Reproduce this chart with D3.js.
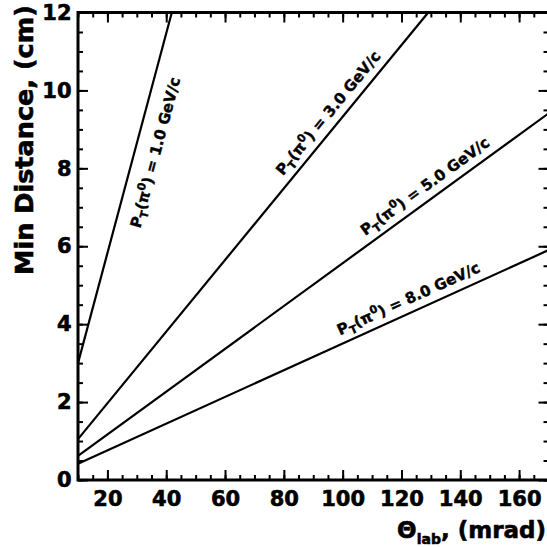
<!DOCTYPE html>
<html>
<head>
<meta charset="utf-8">
<script src="https://cdn.jsdelivr.net/npm/d3@7"></script>
<style>
  html, body { margin: 0; padding: 0; background: #fff; }
  svg { display: block; }
  text { font-family: "DejaVu Sans", sans-serif; font-weight: bold; fill: #000; stroke: #000; stroke-width: 0.6px; }
</style>
</head>
<body>
<svg id="chart" width="547" height="547"></svg>
<script>
// ---- data ----
const ptLabels = ["1.0", "3.0", "5.0", "8.0"];
const theta_pt1 = [10, 41.9];
const dist_pt1  = [3.0, 12.0];
const theta_pt3 = [10, 129.1];
const dist_pt3  = [1.05, 12.0];
const theta_pt5 = [10, 170];
const dist_pt5  = [0.62, 9.41];
const theta_pt8 = [10, 170];
const dist_pt8  = [0.42, 5.9];
// label anchors (data units) along each curve
const labelTheta = [31.2, 79.7, 107.7, 99.1];
const labelDist  = [6.45, 7.8, 6.26, 3.71];

const xMajorTicks = [20, 40, 60, 80, 100, 120, 140, 160];
const yMajorTicks = [0, 2, 4, 6, 8, 10, 12];
const xMinorTicks = d3.range(10, 171, 5);
const yMinorTicks = d3.range(0, 12.01, 0.5);

const xDomain = [10, 170];
const yDomain = [0, 12];
const xTitle = "Θ";
const xTitleSub = "lab";
const xTitleRest = ", (mrad)";
const yTitle = "Min Distance, (cm)";

// ---- layout ----
const svg = d3.select("#chart");
const L = 78, R = 548.5, T = 12.5, B = 480;
const x = d3.scaleLinear().domain(xDomain).range([L, R]);
const y = d3.scaleLinear().domain(yDomain).range([B, T]);

const series = [
  {pt: ptLabels[0], th: theta_pt1, d: dist_pt1},
  {pt: ptLabels[1], th: theta_pt3, d: dist_pt3},
  {pt: ptLabels[2], th: theta_pt5, d: dist_pt5},
  {pt: ptLabels[3], th: theta_pt8, d: dist_pt8}
];

function styleAxis(g) {
  g.select(".domain").remove();
  g.selectAll(".tick line").attr("stroke", "#000").attr("stroke-width", 2);
}

// minor ticks
svg.append("g").attr("transform", `translate(0,${B})`)
  .call(d3.axisBottom(x).tickValues(xMinorTicks).tickSize(-5).tickFormat(""))
  .call(styleAxis);
svg.append("g").attr("transform", `translate(0,${T})`)
  .call(d3.axisTop(x).tickValues(xMinorTicks).tickSize(-5).tickFormat(""))
  .call(styleAxis);
svg.append("g").attr("transform", `translate(${L},0)`)
  .call(d3.axisLeft(y).tickValues(yMinorTicks).tickSize(-5).tickFormat(""))
  .call(styleAxis);
svg.append("g").attr("transform", `translate(${R},0)`)
  .call(d3.axisRight(y).tickValues(yMinorTicks).tickSize(-5).tickFormat(""))
  .call(styleAxis);

// major ticks
const gx = svg.append("g").attr("transform", `translate(0,${B})`)
  .call(d3.axisBottom(x).tickValues(xMajorTicks).tickSize(-10).tickPadding(11.5).tickFormat(d3.format("d")))
  .call(styleAxis);
gx.selectAll("text").style("font-size", "21px").attr("font-family", null).attr("fill", null);
svg.append("g").attr("transform", `translate(0,${T})`)
  .call(d3.axisTop(x).tickValues(xMajorTicks).tickSize(-10).tickFormat(""))
  .call(styleAxis);
const gy = svg.append("g").attr("transform", `translate(${L},0)`)
  .call(d3.axisLeft(y).tickValues(yMajorTicks).tickSize(-10).tickPadding(6.5).tickFormat(d3.format("d")))
  .call(styleAxis);
gy.selectAll("text").style("font-size", "21px").attr("font-family", null).attr("fill", null);
svg.append("g").attr("transform", `translate(${R},0)`)
  .call(d3.axisRight(y).tickValues(yMajorTicks).tickSize(-10).tickFormat(""))
  .call(styleAxis);

// frame
svg.append("rect")
  .attr("x", L).attr("y", T).attr("width", R - L).attr("height", B - T)
  .attr("fill", "none").attr("stroke", "#000").attr("stroke-width", 3);

// curves
const line = d3.line().x(p => x(p[0])).y(p => y(p[1]));
svg.append("g").selectAll("path").data(series).join("path")
  .attr("d", s => line(s.th.map((t, i) => [t, s.d[i]])))
  .attr("fill", "none").attr("stroke", "#000").attr("stroke-width", 2.2);

// curve labels
series.forEach((s, i) => {
  const dx = x(s.th[1]) - x(s.th[0]);
  const dy = y(s.d[1]) - y(s.d[0]);
  const ang = Math.atan2(dy, dx) * 180 / Math.PI;
  const px = x(labelTheta[i]), py = y(labelDist[i]);
  const t = svg.append("text")
    .attr("transform", `translate(${px},${py}) rotate(${ang})`)
    .style("font-size", "15px").style("stroke-width", "0.4px");
  t.append("tspan").text("P");
  t.append("tspan").attr("dy", 4).style("font-size", "11px").text("T");
  t.append("tspan").attr("dy", -4).text("(π");
  t.append("tspan").attr("dy", -6).style("font-size", "11px").text("0");
  t.append("tspan").attr("dy", 6).text(") = " + s.pt + " GeV/c");
});

// axis titles
const xt = svg.append("text")
  .attr("x", 546).attr("y", 538)
  .attr("text-anchor", "end")
  .style("font-size", "23px");
xt.append("tspan").text(xTitle);
xt.append("tspan").attr("dy", 6).style("font-size", "14px").text(xTitleSub);
xt.append("tspan").attr("dy", -6).text(xTitleRest);

svg.append("text")
  .attr("transform", `translate(33,140) rotate(-90)`)
  .attr("text-anchor", "middle")
  .style("font-size", "25.5px")
  .text(yTitle);
</script>
</body>
</html>
